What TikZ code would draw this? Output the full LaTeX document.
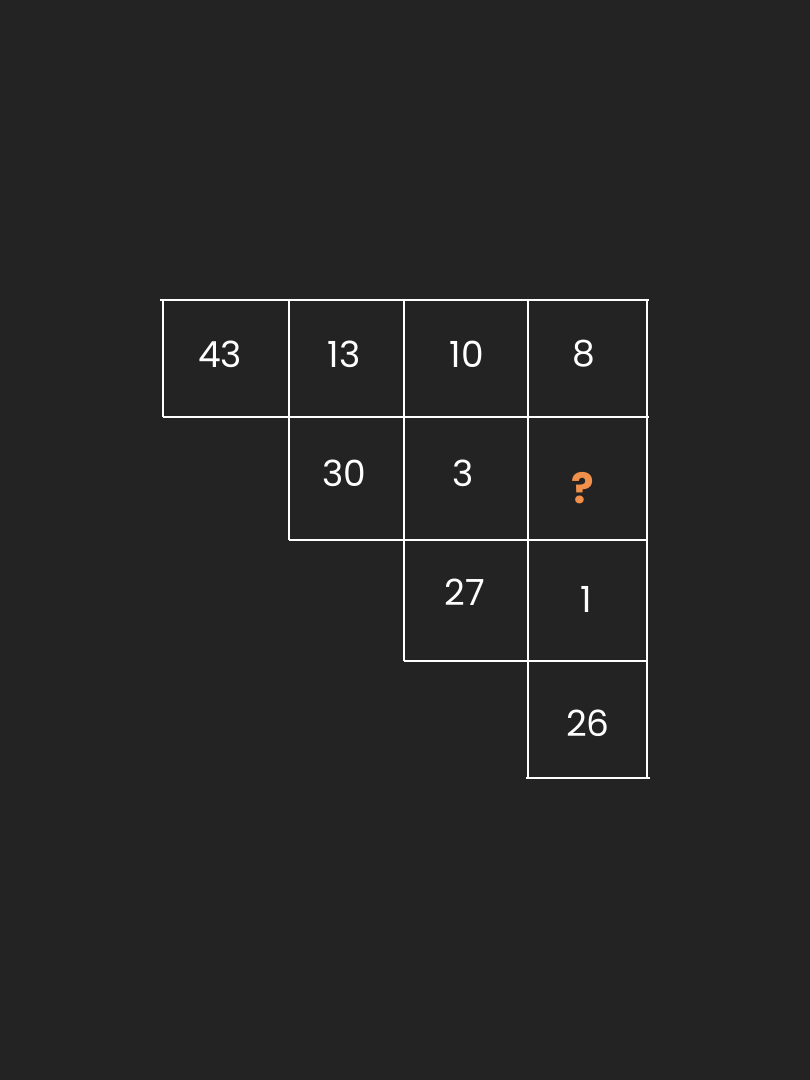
\documentclass[tikz,border=0pt]{standalone}
\usepackage{fontspec}
\setmainfont{Poppins}
\definecolor{bg}{HTML}{232323}
\definecolor{qorange}{HTML}{F0904A}
\begin{document}
\begin{tikzpicture}[x=1pt,y=-1pt,
  gridline/.style={white,line width=2.8pt},
  num/.style={text=white,font=\fontsize{36}{40}\selectfont,inner sep=0pt,anchor=center},
  qmark/.style={text=qorange,font=\bfseries\fontsize{42}{46}\selectfont,inner sep=0pt,anchor=center}]
\fill[bg] (0,0) rectangle (810,1080);
\useasboundingbox (0,0) rectangle (810,1080);
% horizontal lines
\draw[gridline] (160,300) -- (649,300);
\draw[gridline] (163,417) -- (649,417);
\draw[gridline] (289,540) -- (647,540);
\draw[gridline] (404,661) -- (647,661);
\draw[gridline] (526,778) -- (650,778);
% vertical lines
\draw[gridline] (163,300) -- (163,417);
\draw[gridline] (289,300) -- (289,540);
\draw[gridline] (404,300) -- (404,661);
\draw[gridline] (528,300) -- (528,778);
\draw[gridline] (647,300) -- (647,778);
% numbers
\node[num] (n43) at (220,354) {43};
\node[num] (n13) at (344,354) {13};
\node[num] (n10) at (467,354) {10};
\node[num] (n8) at (584,354) {8};
\node[num] (n30) at (344,473) {30};
\node[num] (n3) at (463,473) {3};
\node[qmark] (q) at (583,488) {?};
\node[num] (n27) at (465,592) {27};
\node[num] (n1) at (586,599) {1};
\node[num] (n26) at (588,723) {26};
\end{tikzpicture}
\end{document}
